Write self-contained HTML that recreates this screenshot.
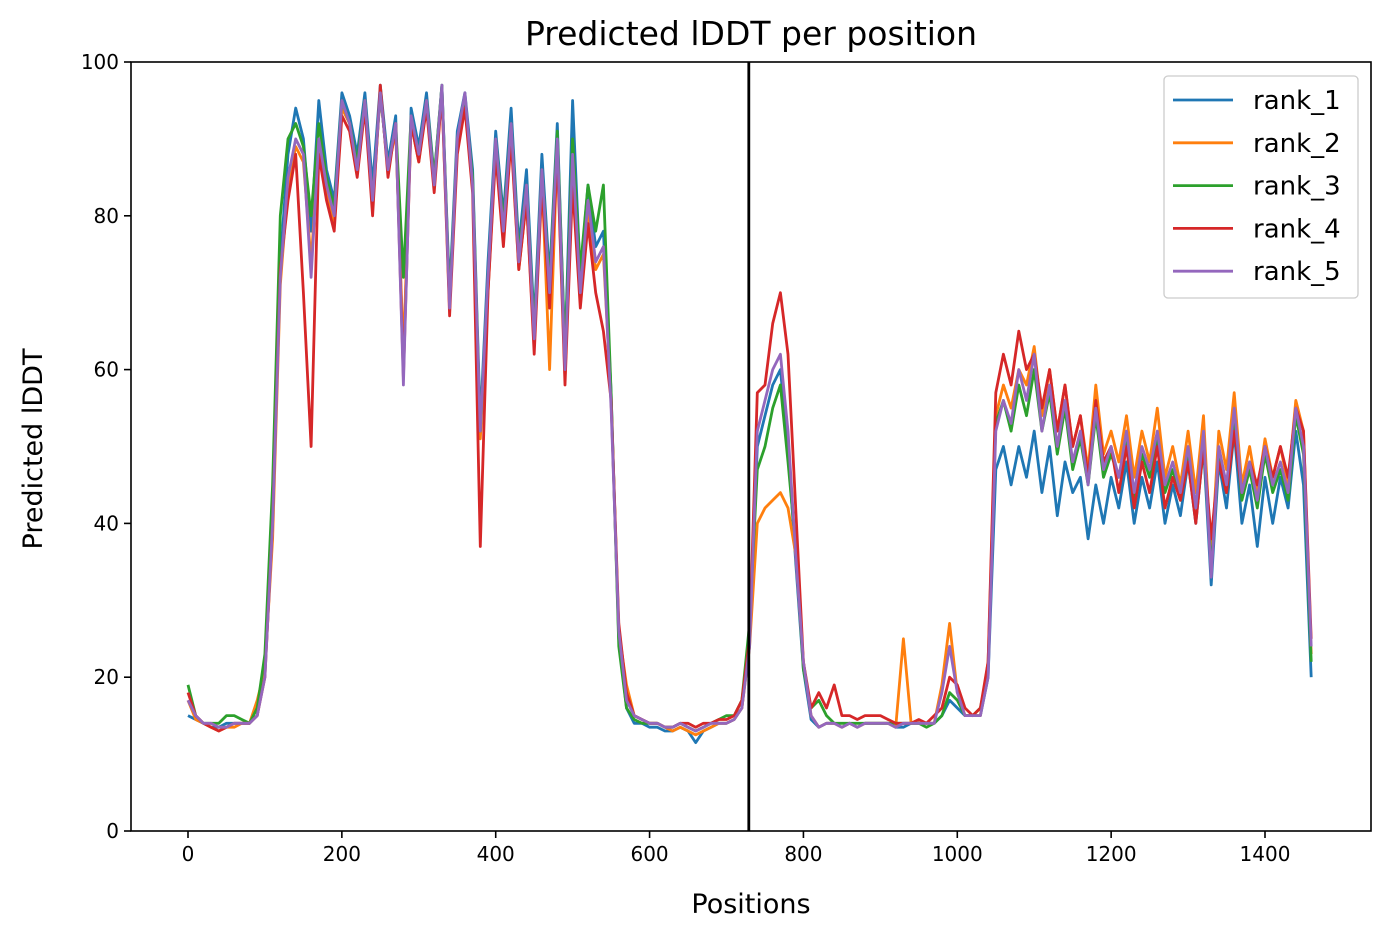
<!DOCTYPE html>
<html><head><meta charset="utf-8">
<style>
html,body{margin:0;padding:0;background:#fff;}
svg text{font-family:"DejaVu Sans","Liberation Sans",sans-serif;fill:#000;}
</style></head>
<body>
<svg id="chart" width="1391" height="939" xmlns="http://www.w3.org/2000/svg">
<rect width="1391" height="939" fill="#fff"/>
<g id="lines"></g>
<g id="axes"></g>
<text x="751" y="45" font-size="33" text-anchor="middle">Predicted lDDT per position</text>
<text x="751" y="913" font-size="27" text-anchor="middle">Positions</text>
<text transform="translate(42,449) rotate(-90)" font-size="27" text-anchor="middle">Predicted lDDT</text>
<g id="legend">
<rect x="1164" y="76" width="194" height="222" rx="4" fill="#fff" fill-opacity="0.8" stroke="#ccc" stroke-width="1.3"/>
</g>
</svg>
<script>
const seriesNames = ["rank_1","rank_2","rank_3","rank_4","rank_5"];
const positionStep = 10;
const xTicks = [0,200,400,600,800,1000,1200,1400];
const yTicks = [0,20,40,60,80,100];
const dividerPosition = 729;

const rank1 = [15,14.5,14,13.5,13.5,14,14,14,14,15,
21,42,74,88,94,90,78,95,86,82,
96,93,88,96,84,97,87,93,60,94,
89,96,85,97,70,91,96,86,53,74,
91,80,94,76,86,66,88,72,92,62,
95,72,84,76,78,57,25,16,14,14,
13.5,13.5,13,13,13.5,13,11.5,13,13.5,14,
14,14.5,16,25,50,54,58,60,50,35,
21,14.5,13.5,14,14,13.5,14,13.5,14,14,
14,14,13.5,13.5,14,14,14,14,15,17,
16,15,15,15,20,47,50,45,50,46,
52,44,50,41,48,44,46,38,45,40,
46,42,48,40,46,42,48,40,45,41,
48,40,50,32,48,42,52,40,45,37,
46,40,46,42,52,45,20];
const rank2 = [17,14.5,14,13.5,13,13.5,13.5,14,14,17,
21,38,71,84,89,87,74,89,83,79,
94,92,86,95,81,96,86,91,62,92,
87,95,84,96,68,89,95,84,51,70,
89,77,91,73,82,63,85,60,89,59,
86,69,81,73,75,56,26,19,15,14.5,
14,14,13.5,13,13.5,13,12.5,13,13.5,14,
14,14.5,16,24,40,42,43,44,42,36,
22,15,13.5,14,14,13.5,14,13.5,14,14,
14,14,13.5,25,14,14,14,14,19,27,
18,15,15,15,22,54,58,55,60,58,
63,54,60,52,58,50,54,47,58,49,
52,48,54,46,52,48,55,46,50,45,
52,44,54,35,52,47,57,45,50,44,
51,46,50,45,56,52,23];
const rank3 = [19,15,14,14,14,15,15,14.5,14,16,
23,45,80,90,92,89,80,92,85,81,
95,92,87,95,82,96,86,92,72,93,
88,95,85,97,69,90,95,85,52,72,
90,79,92,75,84,65,86,71,91,62,
90,73,84,78,84,57,24,16,14.5,14,
14,14,13.5,13.5,14,13.5,13,13.5,14,14.5,
15,15,17,27,47,50,55,58,48,37,
21,16,17,15,14,14,14,14,14,14,
14,14,14,14,14,14,13.5,14,15,18,
17,15,15,16,21,53,56,52,58,54,
60,52,57,49,55,47,51,45,54,46,
49,46,51,43,49,46,51,44,47,43,
49,42,51,34,49,44,54,43,47,42,
49,44,47,43,54,49,22];
const rank4 = [18,15,14,13.5,13,13.5,14,14,14,15,
20,40,73,82,88,70,50,88,82,78,
93,91,85,94,80,97,85,92,59,92,
87,94,83,96,67,88,94,83,37,70,
88,76,90,73,82,62,84,68,88,58,
84,68,79,70,65,56,27,18,15,14.5,
14,14,13.5,13.5,14,14,13.5,14,14,14.5,
14.5,15,17,25,57,58,66,70,62,42,
22,16,18,16,19,15,15,14.5,15,15,
15,14.5,14,14,14,14.5,14,15,16,20,
19,16,15,16,22,57,62,58,65,60,
62,55,60,52,58,50,54,46,56,48,
50,44,50,42,48,44,50,42,46,43,
48,40,50,38,48,44,52,44,48,45,
50,46,50,46,55,52,25];
const rank5 = [17,15,14,14,13.5,13.5,14,14,14,15,
20,40,72,85,90,88,72,90,84,80,
95,92,86,95,82,96,86,92,58,93,
88,95,84,97,68,90,96,84,52,72,
90,78,92,74,84,64,86,70,90,60,
88,70,82,74,76,55,26,17,15,14.5,
14,14,13.5,13.5,14,13.5,13,13.5,14,14,
14,14.5,16,24,52,56,60,62,52,36,
22,15,13.5,14,14,13.5,14,13.5,14,14,
14,14,13.5,14,14,14,14,14,18,24,
18,15,15,15,20,52,56,53,60,56,
62,52,58,50,56,48,52,45,55,47,
50,46,52,44,50,47,52,45,48,44,
50,42,52,33,50,45,55,44,48,43,
50,45,48,44,55,50,24];
const seriesData = [rank1,rank2,rank3,rank4,rank5];
const colors = ["#1f77b4","#ff7f0e","#2ca02c","#d62728","#9467bd"];

const L=131,R=1371,T=62,B=831;
function xScale(v){return 188+v*(1265-188)/1400;}
function yScale(v){return B-v*(B-T)/100;}
const NS="http://www.w3.org/2000/svg";
const lines=document.getElementById('lines');
seriesData.forEach((arr,si)=>{
  const p=document.createElementNS(NS,'polyline');
  p.setAttribute('points',arr.map((v,i)=>xScale(i*positionStep).toFixed(1)+','+yScale(v).toFixed(1)).join(' '));
  p.setAttribute('fill','none');p.setAttribute('stroke',colors[si]);
  p.setAttribute('stroke-width','2.8');p.setAttribute('stroke-linejoin','round');
  
  
  lines.appendChild(p);
});
const axes=document.getElementById('axes');
function el(tag,attrs){const e=document.createElementNS(NS,tag);for(const k in attrs)e.setAttribute(k,attrs[k]);return e;}
const dv=el('line',{x1:xScale(dividerPosition),x2:xScale(dividerPosition),y1:T,y2:B,stroke:'#000','stroke-width':2.8});


axes.appendChild(dv);
const fr=el('rect',{x:L,y:T,width:R-L,height:B-T,fill:'none',stroke:'#000','stroke-width':1.6});


axes.appendChild(fr);
xTicks.forEach(t=>{
  const x=xScale(t);
  axes.appendChild(el('line',{x1:x,x2:x,y1:B,y2:B+7,stroke:'#000','stroke-width':1.6}));
  const tx=el('text',{x:x,y:B+30,'font-size':20,'text-anchor':'middle'});tx.textContent=t;
  
  
  axes.appendChild(tx);
});
yTicks.forEach(t=>{
  const y=yScale(t);
  axes.appendChild(el('line',{x1:L-7,x2:L,y1:y,y2:y,stroke:'#000','stroke-width':1.6}));
  const tx=el('text',{x:L-12,y:y+7,'font-size':20,'text-anchor':'end'});tx.textContent=t;
  
  
  axes.appendChild(tx);
});
const lg=document.getElementById('legend');
seriesNames.forEach((n,i)=>{
  const y=100+i*42.8;
  const ln=el('line',{x1:1173,x2:1233,y1:y,y2:y,stroke:colors[i],'stroke-width':2.8});
  
  
  lg.appendChild(ln);
  const tx=el('text',{x:1253,y:y+9,'font-size':26});tx.textContent=n;
  
  
  lg.appendChild(tx);
});
</script>
</body></html>
